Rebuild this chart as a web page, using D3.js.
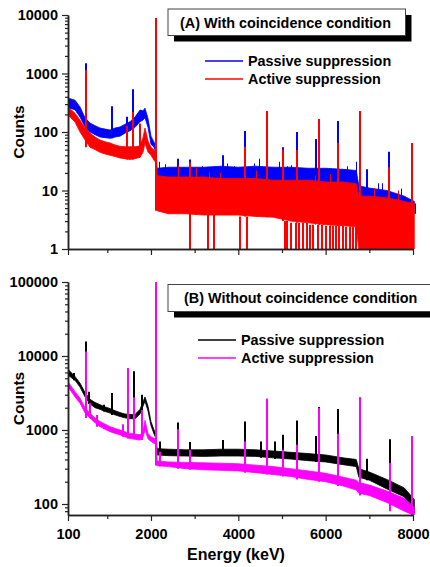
<!DOCTYPE html>
<html>
<head>
<meta charset="utf-8">
<script src="https://cdn.jsdelivr.net/npm/d3@7"></script>
<style>
  body { margin: 0; background: #fff; }
  text { font-family: "Liberation Sans", Arial, sans-serif; font-weight: bold; fill: #000; }
</style>
</head>
<body>
<svg width="430" height="567"></svg>
<script>
var energy = [100,260,375,490,604,720,833,950,1062,1180,1291,1400,1520,1634,1749,1818,1863,1932,2000,2070,2110,
              2140,2400,2800,3200,3600,4000,4400,4800,5200,5600,6000,6400,6700,6760,7000,7400,7800,8030];

// (A) with coincidence condition - upper / lower edge of the noisy band
var topPassiveHi = [380,350,268,175,142,128,117,112,108,117,122,135,150,180,237,230,255,170,85,67,60,
                    24,25,25,25,26,25,26,25,25,24,24,23,22,12,11,10,8,6.5];
var topPassiveLo = [260,240,180,122,100,90,82,80,78,82,85,95,105,120,150,160,175,120,62,55,45,
                    12,12,12,12,12,12,12,12,12,12,12,11,10,6,5,5,4,4];
var topActiveHi  = [268,210,160,117,96,82,73,68,65,60,57,56,56,56,58,80,117,70,55,49,45,
                    18,17,17,17,16,16,16,15,15,15,14,14,13,8,8,7.5,6.5,6];
var topActiveLo  = [195,148,100,73,55,50,45,42,40,38,36,35,34,35,37,45,65,45,40,33,30,
                    4.5,4,4,3.8,3.8,3.8,3.6,3.5,3,2.8,2.6,2.5,2.4,1,1,1,1,1];

// (B) without coincidence condition
var botPassiveHi = [6600,5300,4300,3200,2600,2350,2200,2050,1950,1820,1720,1650,1620,1620,1900,2400,2800,2100,1300,1000,900,
                    560,550,540,540,550,550,540,520,500,480,460,420,400,300,270,215,165,115];
var botPassiveLo = [5500,4700,3800,2800,2250,2000,1900,1780,1700,1600,1520,1460,1420,1420,1650,2100,2450,1800,1150,880,780,
                    460,450,445,440,445,445,440,420,405,385,370,340,320,230,210,160,125,75];
var botActiveHi  = [4500,3300,2700,2000,1690,1450,1300,1200,1110,1050,1000,950,900,880,860,950,1350,900,810,770,760,
                    380,370,365,360,355,350,335,320,300,280,260,230,210,195,180,150,120,90];
var botActiveLo  = [3850,2800,2300,1700,1450,1250,1110,1020,950,900,860,810,770,750,730,800,1000,760,700,660,650,
                    330,320,300,290,285,280,265,250,235,215,200,175,155,140,130,105,80,70];

// peaks: [energy keV, counts]
var topPassivePeaks = [[512,1500],[1100,275],[1451,183],[1596,540],[2122,8900],[2611,35],[2894,34],[3642,40],
                       [4153,104],[4664,228],[5016,55],[5337,100],[5772,76],[5848,167],[6276,154],[6780,228],
                       [6954,23],[7458,46],[7978,62]];
// smaller noise spikes on top of the passive band
var topPassiveMinor = [[2180,31],[2330,28],[3160,26],[3750,29],[3890,26],[4350,29],[4470,35],[4930,31],
                       [5120,26],[5210,27],[5550,24],[6010,24],[6500,26],[6690,31],[6920,12.4],[7190,13.3],
                       [7300,13.3],[7720,10.8],[8040,6]];
var topActivePeaks  = [[512,1150],[1451,128],[1596,220],[1760,140],[2122,8900],[2894,30],[4153,56],[4664,228],
                       [5016,50],[5337,49],[5848,167],[6276,65],[6780,228],[7458,25],[7978,65]];
var topActiveMinor  = [[2611,27],[3030,24],[3340,21],[3570,20],[4400,22],[5750,18],[6100,19],[7100,11],[7650,10]];
// channels where the active spectrum falls to 1 count
var topActiveDips   = [2894,3295,3443,4039,4188,5069,5115,5207,5321,5390,5482,5574,5642,5711,5825,5917,
                       6008,6100,6169,6237,6306,6398,6466,6558,6627,6695];

var botPassivePeaks = [[237,5900],[512,15700],[588,3300],[924,2200],[1100,3150],[1467,6800],[1611,6200],[1787,3000],
                       [2122,100000],[2207,700],[2611,1260],[2894,690],[3642,730],[4153,1300],[4513,700],[4664,2640],
                       [4840,700],[5016,860],[5337,1340],[5772,830],[5855,2050],[6276,1920],[6787,2750],[6954,410],
                       [7474,750],[7970,830]];
var botActivePeaks  = [[512,11500],[600,2300],[760,1600],[1350,1200],[1467,6800],[1611,2750],[1787,1870],
                       [2122,100000],[2207,510],[2611,1020],[2894,540],[4153,700],[4664,2620],[5016,540],[5337,630],
                       [5855,2000],[6276,890],[6787,2750],[7474,358],[7970,830]];

var xTicks = [100, 2000, 4000, 6000, 8000];
var xMinorTicks = [1000, 3000, 5000, 7000];
var topYTicks = [1, 10, 100, 1000, 10000];
var botYTicks = [100, 1000, 10000, 100000];

var svg = d3.select("svg");

var x = d3.scaleLinear().domain([100, 8000]).range([68, 413]);
var yTop = d3.scaleLog().domain([1, 10000]).range([249, 15]);
var yBot = d3.scaleLog().domain([71, 100000]).range([515, 282]);

function baseAt(e, arr) {
  var i = d3.bisectLeft(energy, e);
  var a = arr[Math.max(0, i - 1)], b = arr[Math.min(i, energy.length - 1)];
  return Math.min(a, b);
}

function band(g, y, hi, lo, color) {
  var pts = energy.map(function(e, i) { return {e: e, hi: hi[i], lo: lo[i]}; });
  g.append("path")
    .datum(pts)
    .attr("d", d3.area()
      .x(function(d) { return x(d.e); })
      .y0(function(d) { return y(d.lo); })
      .y1(function(d) { return y(d.hi); }))
    .attr("fill", color)
    .attr("stroke", color)
    .attr("stroke-width", 0.8);
}

// w = 2 -> two full pixels on an integer x; w = 1 -> one full pixel on a half x
function spikes(g, y, peaks, lo, color, w) {
  var px = function(d) { return Math.round(x(d[0])) + (w === 1 ? 0.5 : 0); };
  g.selectAll(null)
    .data(peaks)
    .enter().append("line")
      .attr("x1", px)
      .attr("x2", px)
      .attr("y1", function(d) { return y(baseAt(d[0], lo)); })
      .attr("y2", function(d) { return y(d[1]); })
      .attr("stroke", color)
      .attr("stroke-width", w);
}

function minorLog(y) {
  var dom = y.domain(), out = [];
  var start = Math.pow(10, Math.floor(Math.log10(dom[0])));
  for (var d = start; d < dom[1]; d *= 10)
    for (var k = 2; k <= 9; k++)
      if (k * d >= dom[0] && k * d <= dom[1]) out.push(k * d);
  return out;
}

function axes(y, yTicks, xLabels) {
  var g = svg.append("g").attr("class", "axes");
  var y0 = y.range()[0];

  g.append("g").attr("transform", "translate(68,0)")
    .call(d3.axisLeft(y).tickValues(yTicks).tickFormat(d3.format("d"))
      .tickSize(6).tickSizeOuter(0).tickPadding(4));
  g.append("g").attr("transform", "translate(68,0)")
    .call(d3.axisLeft(y).tickValues(minorLog(y)).tickFormat("")
      .tickSize(3).tickSizeOuter(0));

  g.append("g").attr("transform", "translate(0," + y0 + ")")
    .call(d3.axisBottom(x).tickValues(xTicks)
      .tickFormat(xLabels ? d3.format("d") : "")
      .tickSize(6).tickSizeOuter(0).tickPadding(7.7));
  g.append("g").attr("transform", "translate(0," + y0 + ")")
    .call(d3.axisBottom(x).tickValues(xMinorTicks).tickFormat("")
      .tickSize(4).tickSizeOuter(0));

  g.selectAll(".domain").attr("stroke", "#222").attr("stroke-width", 1.5);
  g.selectAll(".tick line").attr("stroke", "#222").attr("stroke-width", 1.2);
  g.selectAll("text").style("font-size", "14.5px").attr("font-family", null);

  g.append("text")
    .attr("transform", "translate(24," + ((y.range()[0] + y.range()[1]) / 2) + ") rotate(-90)")
    .attr("text-anchor", "middle")
    .style("font-size", "15.5px")
    .text("Counts");
}

function clip(id, y) {
  svg.append("clipPath").attr("id", id)
    .append("rect")
      .attr("x", x.range()[0]).attr("y", y.range()[1])
      .attr("width", x.range()[1] - x.range()[0] + 3)
      .attr("height", y.range()[0] - y.range()[1]);
  return svg.append("g").attr("clip-path", "url(#" + id + ")");
}

// ---------- panel A ----------
var gA = clip("clipA", yTop);
band(gA, yTop, topPassiveHi, topPassiveLo, "#0000ff");
spikes(gA, yTop, topPassivePeaks, topPassiveLo, "#0000ff", 2);
spikes(gA, yTop, topPassiveMinor, topPassiveLo, "#0000ff", 1);
band(gA, yTop, topActiveHi, topActiveLo, "#ff0000");
spikes(gA, yTop, topActivePeaks, topActiveLo, "#ff0000", 2);
spikes(gA, yTop, topActiveMinor, topActiveLo, "#ff0000", 1);
gA.selectAll(null)
  .data(topActiveDips)
  .enter().append("line")
    .attr("x1", function(d) { return Math.round(x(d)); })
    .attr("x2", function(d) { return Math.round(x(d)); })
    .attr("y1", function(d) { return yTop(baseAt(d, topActiveLo)); })
    .attr("y2", yTop(1))
    .attr("stroke", "#ff0000")
    .attr("stroke-width", 2);
axes(yTop, topYTicks, false);

// ---------- panel B ----------
var gB = clip("clipB", yBot);
band(gB, yBot, botPassiveHi, botPassiveLo, "#000000");
spikes(gB, yBot, botPassivePeaks, botPassiveLo, "#000000", 2);
band(gB, yBot, botActiveHi, botActiveLo, "#ff00ff");
spikes(gB, yBot, botActivePeaks, botActiveLo, "#ff00ff", 2);
axes(yBot, botYTicks, true);

svg.append("text")
  .attr("x", 236).attr("y", 560)
  .attr("text-anchor", "middle")
  .style("font-size", "16px")
  .text("Energy (keV)");

// ---------- title boxes ----------
function titleBox(x0, y0, w, h, tx, label) {
  svg.append("rect").attr("x", x0 + 6).attr("y", y0 + 6).attr("width", w).attr("height", h).attr("fill", "#000");
  svg.append("rect").attr("x", x0).attr("y", y0).attr("width", w).attr("height", h)
    .attr("fill", "#fff").attr("stroke", "#444").attr("stroke-width", 1);
  svg.append("text").attr("x", x0 + tx).attr("y", y0 + 18.5)
    .style("font-size", "14.4px").text(label);
}
titleBox(168, 9, 237.5, 26.5, 12, "(A) With coincidence condition");
titleBox(168, 284.5, 280, 27, 16, "(B) Without coincidence condition");

// ---------- legends ----------
function legend(x0, y0, items) {
  items.forEach(function(it, i) {
    var yy = y0 + i * 18;
    svg.append("line").attr("x1", x0).attr("x2", x0 + 38).attr("y1", yy).attr("y2", yy)
      .attr("stroke", it.color).attr("stroke-width", 1.5);
    svg.append("text").attr("x", x0 + 43).attr("y", yy + 5.3)
      .style("font-size", "14.4px").text(it.name);
  });
}
legend(205, 61, [{name: "Passive suppression", color: "#0000ff"}, {name: "Active suppression", color: "#ff0000"}]);
legend(198, 340, [{name: "Passive suppression", color: "#000000"}, {name: "Active suppression", color: "#ff00ff"}]);
</script>
</body>
</html>
